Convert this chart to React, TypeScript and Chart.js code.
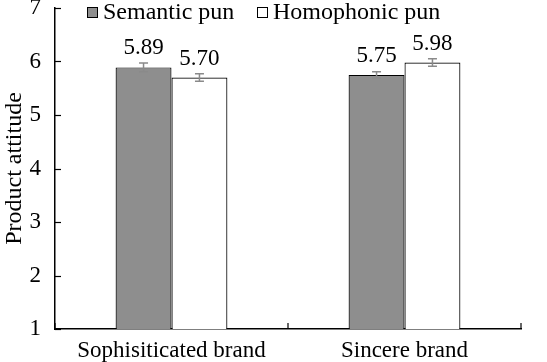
import React, { useEffect, useRef } from "react";
import { Chart, registerables } from "chart.js";

Chart.register(...registerables);

const categories = ["Sophisiticated brand", "Sincere brand"];
const seriesNames = ["Semantic pun", "Homophonic pun"];
const semanticValues = [5.89, 5.75];
const homophonicValues = [5.70, 5.98];
const semanticErrors = [0.08, 0.06];
const homophonicErrors = [0.07, 0.07];
const valueLabels = [["5.89", "5.75"], ["5.70", "5.98"]];
const yTicks = [1, 2, 3, 4, 5, 6, 7];

const FONT = "'Liberation Serif', 'Times New Roman', serif";
const GRAY = "#8e8e8e";

const overlayPlugin = {
  id: "overlay",
  afterDatasetsDraw(chart: any) {
    const ctx = chart.ctx;
    const yScale = chart.scales.y;
    const xScale = chart.scales.x;
    const area = chart.chartArea;
    ctx.save();
    ctx.strokeStyle = "#000";
    ctx.lineWidth = 1.2;
    yTicks.forEach((t) => {
      const y = Math.round(yScale.getPixelForValue(t)) + 0.5;
      ctx.beginPath();
      ctx.moveTo(area.left, y);
      ctx.lineTo(area.left + 6, y);
      ctx.stroke();
    });
    for (let i = 0; i <= categories.length; i++) {
      const x = xScale.getPixelForValue(i - 0.5);
      ctx.beginPath();
      ctx.moveTo(x, area.bottom);
      ctx.lineTo(x, area.bottom - 6);
      ctx.stroke();
    }
    const errs = [semanticErrors, homophonicErrors];
    chart.data.datasets.forEach((ds: any, di: number) => {
      const meta = chart.getDatasetMeta(di);
      meta.data.forEach((bar: any, i: number) => {
        const v = ds.data[i];
        const e = errs[di][i];
        const yTop = yScale.getPixelForValue(v + e);
        const yBot = yScale.getPixelForValue(v - e);
        const x = bar.x;
        ctx.strokeStyle = "#8a8a8a";
        ctx.lineWidth = 1.5;
        ctx.beginPath();
        ctx.moveTo(x, yTop);
        ctx.lineTo(x, yBot);
        ctx.moveTo(x - 4.5, yTop);
        ctx.lineTo(x + 4.5, yTop);
        ctx.moveTo(x - 4.5, yBot);
        ctx.lineTo(x + 4.5, yBot);
        ctx.stroke();
        ctx.fillStyle = "#000";
        ctx.font = `23px ${FONT}`;
        ctx.textAlign = "center";
        ctx.textBaseline = "alphabetic";
        ctx.fillText(valueLabels[di][i], x, bar.y - 13);
      });
    });
    ctx.font = `24px ${FONT}`;
    ctx.textAlign = "left";
    ctx.textBaseline = "middle";
    const legendY = 12;
    const items = [
      { x: 87, fill: GRAY, label: seriesNames[0] },
      { x: 257, fill: "#ffffff", label: seriesNames[1] },
    ];
    items.forEach((it) => {
      ctx.fillStyle = it.fill;
      ctx.fillRect(it.x, legendY - 5, 10, 10);
      ctx.strokeStyle = "#000";
      ctx.lineWidth = 1;
      ctx.strokeRect(it.x + 0.5, legendY - 4.5, 10, 10);
      ctx.fillStyle = "#000";
      ctx.fillText(it.label, it.x + 16, legendY + 1);
    });
    ctx.restore();
  },
};

export default function App() {
  const ref = useRef<HTMLCanvasElement>(null);
  useEffect(() => {
    document.body.style.margin = "0";
    const canvas = ref.current!;
    const chart = new Chart(canvas, {
      type: "bar",
      data: {
        labels: categories,
        datasets: [
          {
            label: seriesNames[0],
            data: semanticValues,
            backgroundColor: GRAY,
            borderColor: "#000",
            borderWidth: 1.2,
            categoryPercentage: 0.48,
            barPercentage: 1,
          },
          {
            label: seriesNames[1],
            data: homophonicValues,
            backgroundColor: "#ffffff",
            borderColor: "#000",
            borderWidth: 1.2,
            categoryPercentage: 0.48,
            barPercentage: 1,
          },
        ],
      },
      options: {
        animation: false,
        responsive: false,
        maintainAspectRatio: false,
        layout: { padding: { top: 8, right: 26, left: 0, bottom: 0 } },
        plugins: { legend: { display: false }, tooltip: { enabled: false } },
        scales: {
          x: {
            grid: { display: false },
            border: { display: true, color: "#000", width: 1.5 },
            ticks: { color: "#000", font: { family: FONT, size: 23 }, padding: 0 },
            afterFit: (s: any) => {
              s.height = 33;
              s.paddingLeft = 0;
              s.paddingRight = 0;
            },
          },
          y: {
            min: 1,
            max: 7,
            grid: { display: false },
            border: { display: true, color: "#000", width: 1.5 },
            ticks: {
              stepSize: 1,
              color: "#000",
              font: { family: FONT, size: 23 },
              padding: 6,
            },
            title: {
              display: true,
              text: "Product attitude",
              color: "#000",
              font: { family: FONT, size: 24 },
              padding: { top: 0, bottom: 0 },
            },
            afterFit: (s: any) => {
              s.width = 55;
              s.paddingTop = 0;
              s.paddingBottom = 0;
            },
          },
        },
      },
      plugins: [overlayPlugin],
    });
    return () => chart.destroy();
  }, []);
  return (
    <div style={{ width: 547, height: 362 }}>
      <canvas ref={ref} width={547} height={362} style={{ display: "block" }} />
    </div>
  );
}
